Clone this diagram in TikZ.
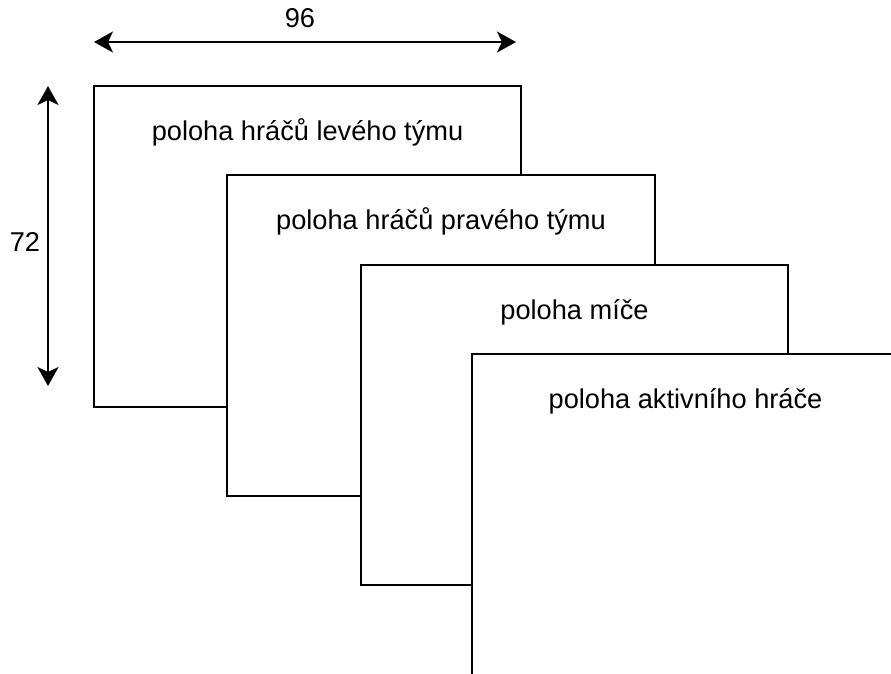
\documentclass[tikz,border=0pt]{standalone}
\usepackage{fontspec}
\setmainfont{Liberation Sans}
\usetikzlibrary{arrows.meta}
\begin{document}
\begin{tikzpicture}[x=1pt,y=-1pt,
  layer/.style={draw=black,fill=white,line width=2pt},
  caption/.style={anchor=base,inner sep=0pt,font=\fontsize{27.2}{31}\selectfont},
  dim/.style={line width=2pt,{Stealth[length=19pt,width=21pt,inset=5pt]}-{Stealth[length=19pt,width=21pt,inset=5pt]}},
  dimlabel/.style={inner sep=0pt,font=\fontsize{27.2}{31}\selectfont}]
  \useasboundingbox (0,0) rectangle (891,673);
  \clip (0,0) rectangle (891,673);
  % stacked input planes, each drawn over the previous one
  \draw[layer] (94,86) rectangle (521,407);
  \node[caption] (t1) at (307.5,140) {poloha hráčů levého týmu};
  \draw[layer] (227,175) rectangle (655,496);
  \node[caption] (t2) at (441,229) {poloha hráčů pravého týmu};
  \draw[layer] (361,265) rectangle (788,585);
  \node[caption] (t3) at (574.5,319) {poloha míče};
  \draw[layer] (472,354) rectangle (899,675);
  \node[caption] (t4) at (685.5,408) {poloha aktivního hráče};
  % dimensions
  \coordinate (hl) at (94,42);
  \coordinate (hr) at (516,42);
  \draw[dim] (hl) -- (hr);
  \node[dimlabel] (w) at (300,18) {96};
  \coordinate (vt) at (48,86);
  \coordinate (vb) at (48,386);
  \draw[dim] (vt) -- (vb);
  \node[dimlabel] (h) at (25,242) {72};
\end{tikzpicture}
\end{document}
